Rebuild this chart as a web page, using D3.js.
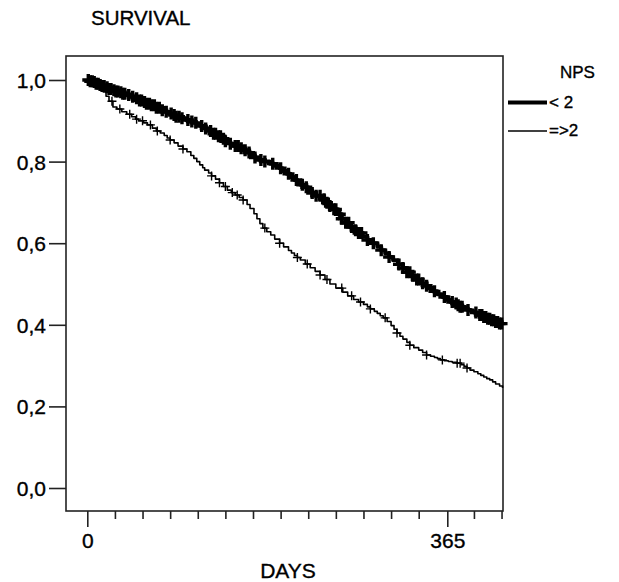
<!DOCTYPE html>
<html>
<head>
<meta charset="utf-8">
<script src="https://cdnjs.cloudflare.com/ajax/libs/d3/7.8.5/d3.min.js"></script>
<style>
  body { margin: 0; background: #fff; }
  text { font-family: "Liberation Sans", Arial, sans-serif; fill: #000; stroke: #000; stroke-width: 0.35px; }
</style>
</head>
<body>
<svg id="chart" width="619" height="582"></svg>
<script>
// survival steps, NPS < 2  [day, survival]
var lowSteps = [
  [0, 1.000], [3, 0.997], [6, 0.995], [9, 0.991], [12, 0.988], [15, 0.985], [18, 0.982],
  [21, 0.978], [25, 0.975], [28, 0.972], [32, 0.970], [36, 0.966], [40, 0.963], [44, 0.959],
  [48, 0.955], [52, 0.950], [56, 0.946], [60, 0.942], [64, 0.938], [69, 0.932], [74, 0.926],
  [78, 0.922], [82, 0.918], [86, 0.914], [90, 0.910], [95, 0.906], [100, 0.902], [104, 0.898],
  [108, 0.895], [111, 0.891], [115, 0.887], [120, 0.881], [124, 0.875], [128, 0.868],
  [132, 0.862], [136, 0.856], [140, 0.850], [145, 0.844], [150, 0.838], [154, 0.833],
  [158, 0.828], [162, 0.822], [166, 0.816], [170, 0.810], [175, 0.804], [180, 0.800],
  [185, 0.795], [190, 0.790], [195, 0.784], [198, 0.777], [202, 0.770], [206, 0.762],
  [210, 0.755], [213, 0.749], [216, 0.743], [220, 0.737], [224, 0.730], [228, 0.723],
  [232, 0.716], [237, 0.708], [243, 0.699], [246, 0.691], [250, 0.683], [254, 0.671],
  [258, 0.660], [262, 0.650], [266, 0.640], [270, 0.632], [274, 0.625], [279, 0.616],
  [284, 0.608], [289, 0.600], [294, 0.591], [298, 0.583], [302, 0.575], [306, 0.566],
  [310, 0.558], [315, 0.548], [320, 0.539], [324, 0.529], [328, 0.520], [332, 0.511],
  [337, 0.502], [341, 0.496], [345, 0.490], [350, 0.482], [355, 0.475], [360, 0.468],
  [365, 0.461], [368, 0.456], [372, 0.452], [375, 0.448], [378, 0.444], [382, 0.440],
  [386, 0.436], [389, 0.433], [392, 0.430], [395, 0.427], [398, 0.424], [402, 0.419],
  [406, 0.415], [410, 0.411], [414, 0.407], [418, 0.403], [421, 0.400]
]
// survival steps, NPS => 2
var highSteps = [
  [0, 1.000], [3, 0.995], [6, 0.989], [9, 0.984], [12, 0.978], [16, 0.971], [19, 0.960],
  [22, 0.948], [26, 0.934], [30, 0.929], [35, 0.922], [40, 0.916], [45, 0.910], [49, 0.904],
  [52, 0.900], [57, 0.895], [61, 0.890], [66, 0.882], [70, 0.875], [74, 0.870], [78, 0.864],
  [81, 0.858], [84, 0.853], [88, 0.846], [92, 0.838], [97, 0.831], [101, 0.824], [105, 0.815],
  [108, 0.808], [111, 0.800], [114, 0.792], [117, 0.785], [119, 0.779], [123, 0.772],
  [126, 0.765], [130, 0.757], [134, 0.748], [138, 0.739], [142, 0.730], [146, 0.724],
  [150, 0.718], [154, 0.712], [158, 0.706], [162, 0.695], [165, 0.685], [169, 0.672],
  [172, 0.660], [175, 0.648], [178, 0.637], [182, 0.628], [186, 0.620], [190, 0.610],
  [195, 0.600], [199, 0.591], [204, 0.582], [207, 0.576], [210, 0.570], [213, 0.565],
  [216, 0.559], [221, 0.549], [226, 0.540], [231, 0.531], [236, 0.522], [241, 0.511],
  [246, 0.500], [252, 0.490], [259, 0.480], [264, 0.471], [270, 0.462], [275, 0.456],
  [280, 0.450], [284, 0.444], [287, 0.439], [291, 0.433], [294, 0.428], [297, 0.422],
  [300, 0.417], [304, 0.408], [308, 0.398], [311, 0.389], [314, 0.380], [317, 0.372],
  [320, 0.365], [324, 0.357], [327, 0.350], [331, 0.344], [336, 0.338], [340, 0.332],
  [344, 0.326], [348, 0.323], [352, 0.320], [355, 0.317], [358, 0.314], [362, 0.312],
  [366, 0.310], [370, 0.308], [375, 0.306], [379, 0.302], [382, 0.298], [385, 0.294],
  [388, 0.289], [392, 0.285], [396, 0.280], [399, 0.276], [402, 0.272], [405, 0.268],
  [408, 0.265], [411, 0.260], [414, 0.255], [418, 0.250], [421, 0.245]
]
// censored cases (days)
var lowCensor = [1, 3, 5, 7, 9, 11, 13, 15, 17, 20, 22, 24, 27, 29, 31, 34, 36, 38, 42,
  46, 50, 53, 55, 58, 60, 63, 65, 68, 70, 73, 76, 80, 85, 88, 90, 93, 96, 102, 106, 110,
  116, 120, 125, 128, 130, 133, 135, 138, 140, 145, 150, 153, 156, 160, 164, 170, 176,
  180, 188, 196, 204, 212, 218, 222, 228, 232, 236, 240, 243, 246, 250, 252, 256, 258,
  262, 265, 268, 272, 275, 278, 284, 290, 298, 306, 316, 320, 324, 327, 330, 334, 336,
  340, 344, 352, 362, 370, 374, 376, 378, 380, 386, 394, 398, 400, 402, 404, 406, 408,
  410, 412, 414, 416, 418, 420]
var highCensor = [25, 33, 43, 50, 56, 64, 71, 84, 97, 126, 134, 140, 147, 152, 158, 180,
  195, 213, 223, 236, 243, 258, 268, 277, 287, 302, 314, 327, 344, 360, 375, 378, 385]

var yTicks = [0, 0.2, 0.4, 0.6, 0.8, 1.0]
var xMajor = [0, 365]
var xMinor = [28, 56, 84, 112, 140, 168, 196, 224, 252, 280, 308, 336, 392, 420]
var groups = ['< 2', '=>2']

var svg = d3.select('#chart')
var plotL = 66, plotR = 503, plotT = 56, plotB = 511

var x = d3.scaleLinear().domain([0, 365]).range([87.3, 447.3])
var y = d3.scaleLinear().domain([0, 1]).range([488, 80])

var fmt = function(d) { return d3.format('.1f')(d).replace('.', ',') }

// frame
svg.append('rect')
  .attr('x', plotL).attr('y', plotT)
  .attr('width', plotR - plotL).attr('height', plotB - plotT)
  .attr('fill', 'none').attr('stroke', '#222').attr('stroke-width', 1.6)

// y axis
var yAxis = svg.append('g')
  .attr('transform', 'translate(' + plotL + ',0)')
  .call(d3.axisLeft(y).tickValues(yTicks).tickSize(17).tickPadding(3).tickFormat(fmt))
yAxis.select('.domain').remove()
yAxis.selectAll('line').attr('stroke', '#222').attr('stroke-width', 1.6)
yAxis.selectAll('text').attr('font-size', 21).attr('dy', '0.36em')
  .style('font-family', '"Liberation Sans", Arial, sans-serif')

// x axis
var xAxisMinor = svg.append('g')
  .attr('transform', 'translate(0,' + plotB + ')')
  .call(d3.axisBottom(x).tickValues(xMinor).tickSize(8).tickFormat(''))
xAxisMinor.select('.domain').remove()
xAxisMinor.selectAll('line').attr('stroke', '#222').attr('stroke-width', 1.6)

var xAxis = svg.append('g')
  .attr('transform', 'translate(0,' + plotB + ')')
  .call(d3.axisBottom(x).tickValues(xMajor).tickSize(16).tickPadding(6).tickFormat(d3.format('d')))
xAxis.select('.domain').remove()
xAxis.selectAll('line').attr('stroke', '#222').attr('stroke-width', 1.6)
xAxis.selectAll('text').attr('font-size', 21)
  .style('font-family', '"Liberation Sans", Arial, sans-serif')

// titles
svg.append('text').attr('x', 91).attr('y', 25).attr('font-size', 20.5).text('SURVIVAL')
svg.append('text').attr('x', 288).attr('y', 578).attr('font-size', 21)
  .attr('text-anchor', 'middle').text('DAYS')

// curves
var line = d3.line()
  .x(function(d) { return x(d[0]) })
  .y(function(d) { return y(d[1]) })
  .curve(d3.curveStepAfter)

var bis = d3.bisector(function(d) { return d[0] }).right
function survAt(steps, day) {
  return steps[Math.max(0, bis(steps, day) - 1)][1]
}

function drawGroup(steps, censor, lw, mw, ms) {
  svg.append('path').datum(steps)
    .attr('d', line)
    .attr('fill', 'none').attr('stroke', '#000')
    .attr('stroke-width', lw).attr('stroke-linejoin', 'round')

  svg.append('g').selectAll('path')
    .data(censor)
    .enter()
    .append('path')
    .attr('d', function(d) {
      var cx = x(d), cy = y(survAt(steps, d))
      return 'M' + (cx - ms) + ',' + cy + 'H' + (cx + ms) +
        'M' + cx + ',' + (cy - ms) + 'V' + (cy + ms)
    })
    .attr('stroke', '#000').attr('stroke-width', mw)
}

drawGroup(highSteps, highCensor, 1.6, 1.4, 4.5)
drawGroup(lowSteps, lowCensor, 4, 3.4, 6)

// legend
svg.append('text').attr('x', 560).attr('y', 78).attr('font-size', 17).text('NPS')
var leg = svg.append('g').selectAll('g')
  .data(groups)
  .enter()
  .append('g')
  .attr('transform', function(d, i) { return 'translate(0,' + (102.5 + i * 28.5) + ')' })
leg.append('line')
  .attr('x1', 508).attr('x2', 547)
  .attr('stroke', '#000')
  .attr('stroke-width', function(d, i) { return i == 0 ? 3.8 : 1.3 })
leg.append('text')
  .attr('x', 549).attr('y', 5).attr('font-size', 17)
  .text(function(d) { return d })
</script>
</body>
</html>
